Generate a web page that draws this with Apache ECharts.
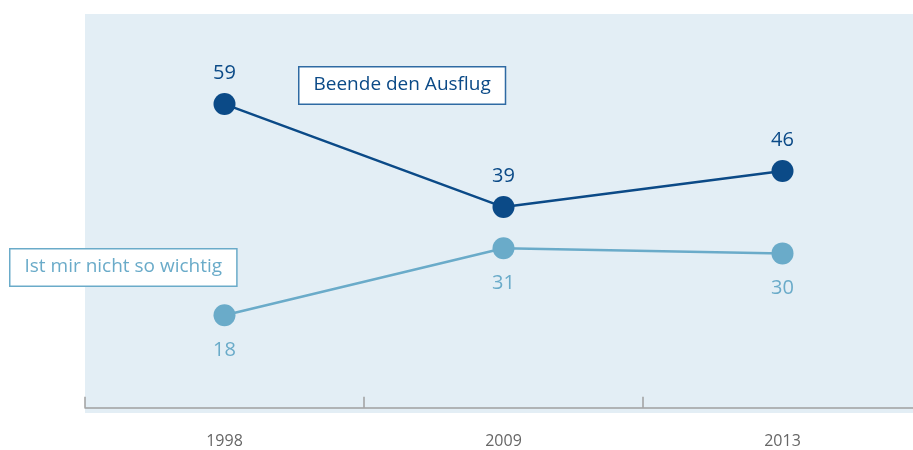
<!DOCTYPE html>
<html>
<head>
<meta charset="utf-8">
<script src="https://cdn.jsdelivr.net/npm/echarts@6/dist/echarts.min.js"></script>
<style>
  html, body { margin: 0; padding: 0; background: #fff; }
  #chart { width: 913px; height: 450px; }
</style>
</head>
<body>
<div id="chart"></div>
<script>
  // Jahre und Werte
  const years = ['1998', '2009', '2013'];
  const beendeAusflug = [59, 39, 46];
  const nichtWichtig = [18, 31, 30];

  const darkBlue = '#0b4a87';
  const lightBlue = '#6aabc9';

  const chart = echarts.init(document.getElementById('chart'));
  const option = {
    animation: false,
    textStyle: { fontFamily: 'Open Sans' },
    grid: {
      left: 85, width: 837, top: 14, height: 399,
      show: true, backgroundColor: '#e3eef5', borderWidth: 0,
      containLabel: false,
      outerBoundsMode: 'none'
    },
    xAxis: {
      type: 'category',
      data: years,
      boundaryGap: true,
      axisLine: { show: true, lineStyle: { color: '#a0a0a0', width: 1.5 } },
      axisTick: { show: true, inside: true, length: 11, lineStyle: { color: '#a0a0a0', width: 1.5 } },
      axisLabel: { color: '#666', fontSize: 16, margin: 20 }
    },
    yAxis: {
      type: 'value', min: -1, max: 76.5,
      show: false
    },
    series: [{
      name: 'Beende den Ausflug',
      type: 'line',
      data: beendeAusflug,
      symbol: 'circle', symbolSize: 22,
      itemStyle: { color: darkBlue },
      lineStyle: { color: darkBlue, width: 2.5 },
      label: { show: true, position: 'top', distance: 10, color: darkBlue, fontSize: 20 }
    }, {
      name: 'Ist mir nicht so wichtig',
      type: 'line',
      data: nichtWichtig,
      symbol: 'circle', symbolSize: 22,
      itemStyle: { color: lightBlue },
      lineStyle: { color: lightBlue, width: 2.5 },
      label: { show: true, position: 'bottom', distance: 14, color: lightBlue, fontSize: 20 }
    }],
    graphic: [{
      type: 'text', left: 298, top: 66,
      style: {
        text: 'Beende den Ausflug', fill: darkBlue, font: '19px "Open Sans"',
        backgroundColor: '#fff', borderColor: '#2f6aa3', borderWidth: 1.5,
        padding: [8, 14, 9, 14]
      }
    }, {
      type: 'text', left: 9, top: 248,
      style: {
        text: 'Ist mir nicht so wichtig', fill: lightBlue, font: '19px "Open Sans"',
        backgroundColor: '#fff', borderColor: lightBlue, borderWidth: 1.5,
        padding: [8, 14, 9, 14]
      }
    }]
  };
  chart.setOption(option);
</script>
</body>
</html>
